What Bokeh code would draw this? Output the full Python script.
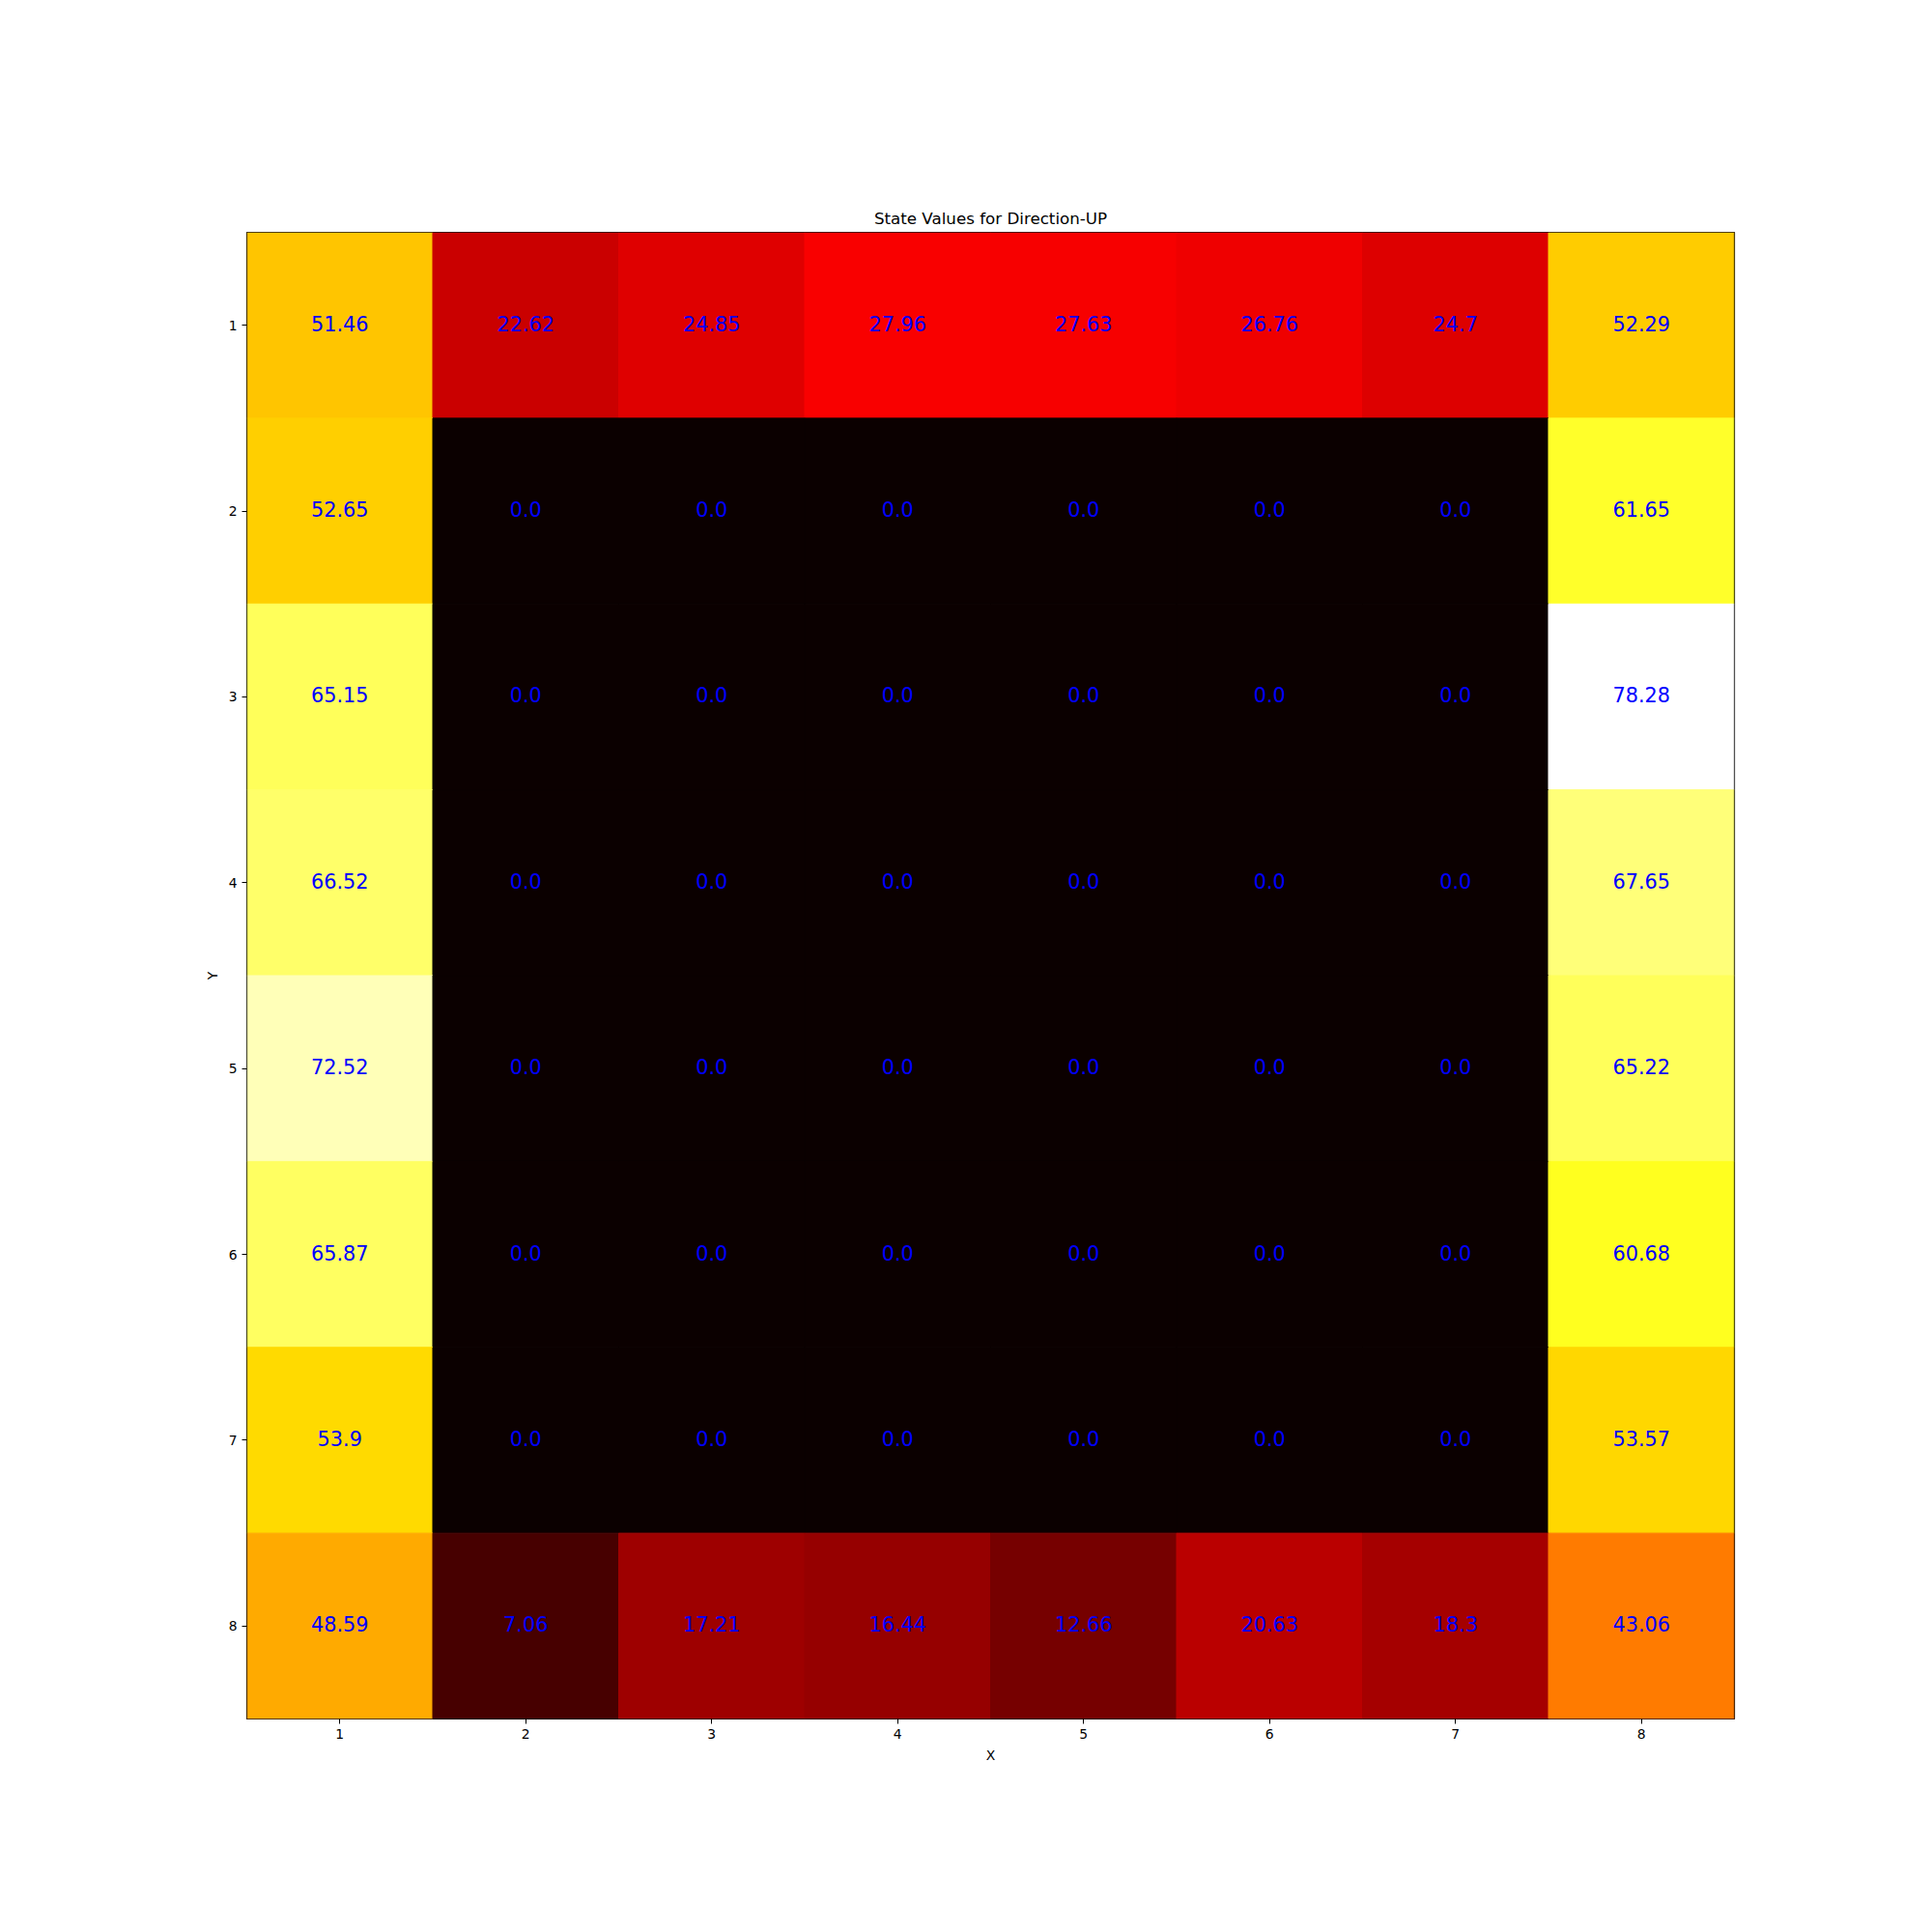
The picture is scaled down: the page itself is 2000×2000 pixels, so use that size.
import numpy as np
from bokeh.plotting import figure
from bokeh.models import ColumnDataSource, LinearColorMapper, Range1d, FixedTicker, BoxAnnotation
from bokeh.transform import transform
from bokeh.core.properties import value
from bokeh.embed import file_html
from bokeh.resources import INLINE

# ---- data ----
x_labels = [1, 2, 3, 4, 5, 6, 7, 8]
y_labels = [1, 2, 3, 4, 5, 6, 7, 8]
row1 = [51.46, 22.62, 24.85, 27.96, 27.63, 26.76, 24.7, 52.29]
row2 = [52.65, 0.0, 0.0, 0.0, 0.0, 0.0, 0.0, 61.65]
row3 = [65.15, 0.0, 0.0, 0.0, 0.0, 0.0, 0.0, 78.28]
row4 = [66.52, 0.0, 0.0, 0.0, 0.0, 0.0, 0.0, 67.65]
row5 = [72.52, 0.0, 0.0, 0.0, 0.0, 0.0, 0.0, 65.22]
row6 = [65.87, 0.0, 0.0, 0.0, 0.0, 0.0, 0.0, 60.68]
row7 = [53.9, 0.0, 0.0, 0.0, 0.0, 0.0, 0.0, 53.57]
row8 = [48.59, 7.06, 17.21, 16.44, 12.66, 20.63, 18.3, 43.06]
rows = [row1, row2, row3, row4, row5, row6, row7, row8]
title_text = "State Values for Direction-UP"

# ---- matplotlib 'hot' colormap as a 256 palette ----
def _seg(xs, pts):
    px = [p[0] for p in pts]
    py = [p[1] for p in pts]
    return np.interp(xs, px, py)

t = np.linspace(0, 1, 256)
r = _seg(t, [(0.0, 0.0416), (0.365079, 1.0), (1.0, 1.0)])
g = _seg(t, [(0.0, 0.0), (0.365079, 0.0), (0.746032, 1.0), (1.0, 1.0)])
b = _seg(t, [(0.0, 0.0), (0.746032, 0.0), (1.0, 1.0)])
hot = ["#%02x%02x%02x" % (int(round(rr * 255)), int(round(gg * 255)), int(round(bb * 255)))
       for rr, gg, bb in zip(r, g, b)]

xs, ys, vals, texts = [], [], [], []
for yi, row in zip(y_labels, rows):
    for xi, v in zip(x_labels, row):
        xs.append(xi)
        ys.append(yi)
        vals.append(v)
        texts.append(str(round(float(v), 2)))

src = ColumnDataSource(dict(x=xs, y=ys, v=vals, t=texts))
all_vals = [v for row in rows for v in row]
mapper = LinearColorMapper(palette=hot, low=min(all_vals), high=max(all_vals))

p = figure(
    frame_width=1540, frame_height=1539,
    x_range=Range1d(0.5, 8.5), y_range=Range1d(8.5, 0.5),
    output_backend="svg", toolbar_location=None,
    min_border_left=255, min_border_top=240, min_border_right=100, min_border_bottom=100,
    background_fill_color="white", border_fill_color="white",
)
p.rect(x="x", y="y", width=1, height=1, source=src,
       fill_color=transform("v", mapper), line_color=transform("v", mapper), line_width=1)
p.text(x="x", y="y", text="t", source=src, text_align="center", text_baseline="middle",
       y_offset=-2, text_color="blue", text_font=value("DejaVu Sans"), text_font_size="20.8px")

# frame border drawn on top of the cells
p.add_layout(BoxAnnotation(fill_alpha=0, line_color="black", line_width=1.2, line_alpha=1.0))

p.title.text = title_text
p.title.align = "center"
p.title.text_font = "DejaVu Sans"
p.title.text_font_size = "16.7px"
p.title.text_font_style = "normal"
p.title.text_color = "black"
p.title.standoff = 9

p.xgrid.visible = False
p.ygrid.visible = False
p.outline_line_color = "black"
p.outline_line_width = 1.2
p.outline_line_alpha = 1.0

for ax, lab in ((p.xaxis, "X"), (p.yaxis, "Y")):
    ax.ticker = FixedTicker(ticks=x_labels)
    ax.axis_label = lab
    ax.axis_label_text_font = "DejaVu Sans"
    ax.axis_label_text_font_size = "13.9px"
    ax.axis_label_text_font_style = "normal"
    ax.axis_label_text_color = "black"
    ax.major_label_text_font = "DejaVu Sans"
    ax.major_label_text_font_size = "13.9px"
    ax.major_label_text_color = "black"
    ax.major_tick_out = 5
    ax.major_tick_in = 0
    ax.minor_tick_out = 0
    ax.minor_tick_in = 0
    ax.major_label_standoff = 5
    ax.axis_line_color = None
    ax.major_tick_line_color = "black"
    ax.axis_label_standoff = 6

p.yaxis.major_label_orientation = "horizontal"

open("out.html", "w").write(file_html(p, INLINE))
